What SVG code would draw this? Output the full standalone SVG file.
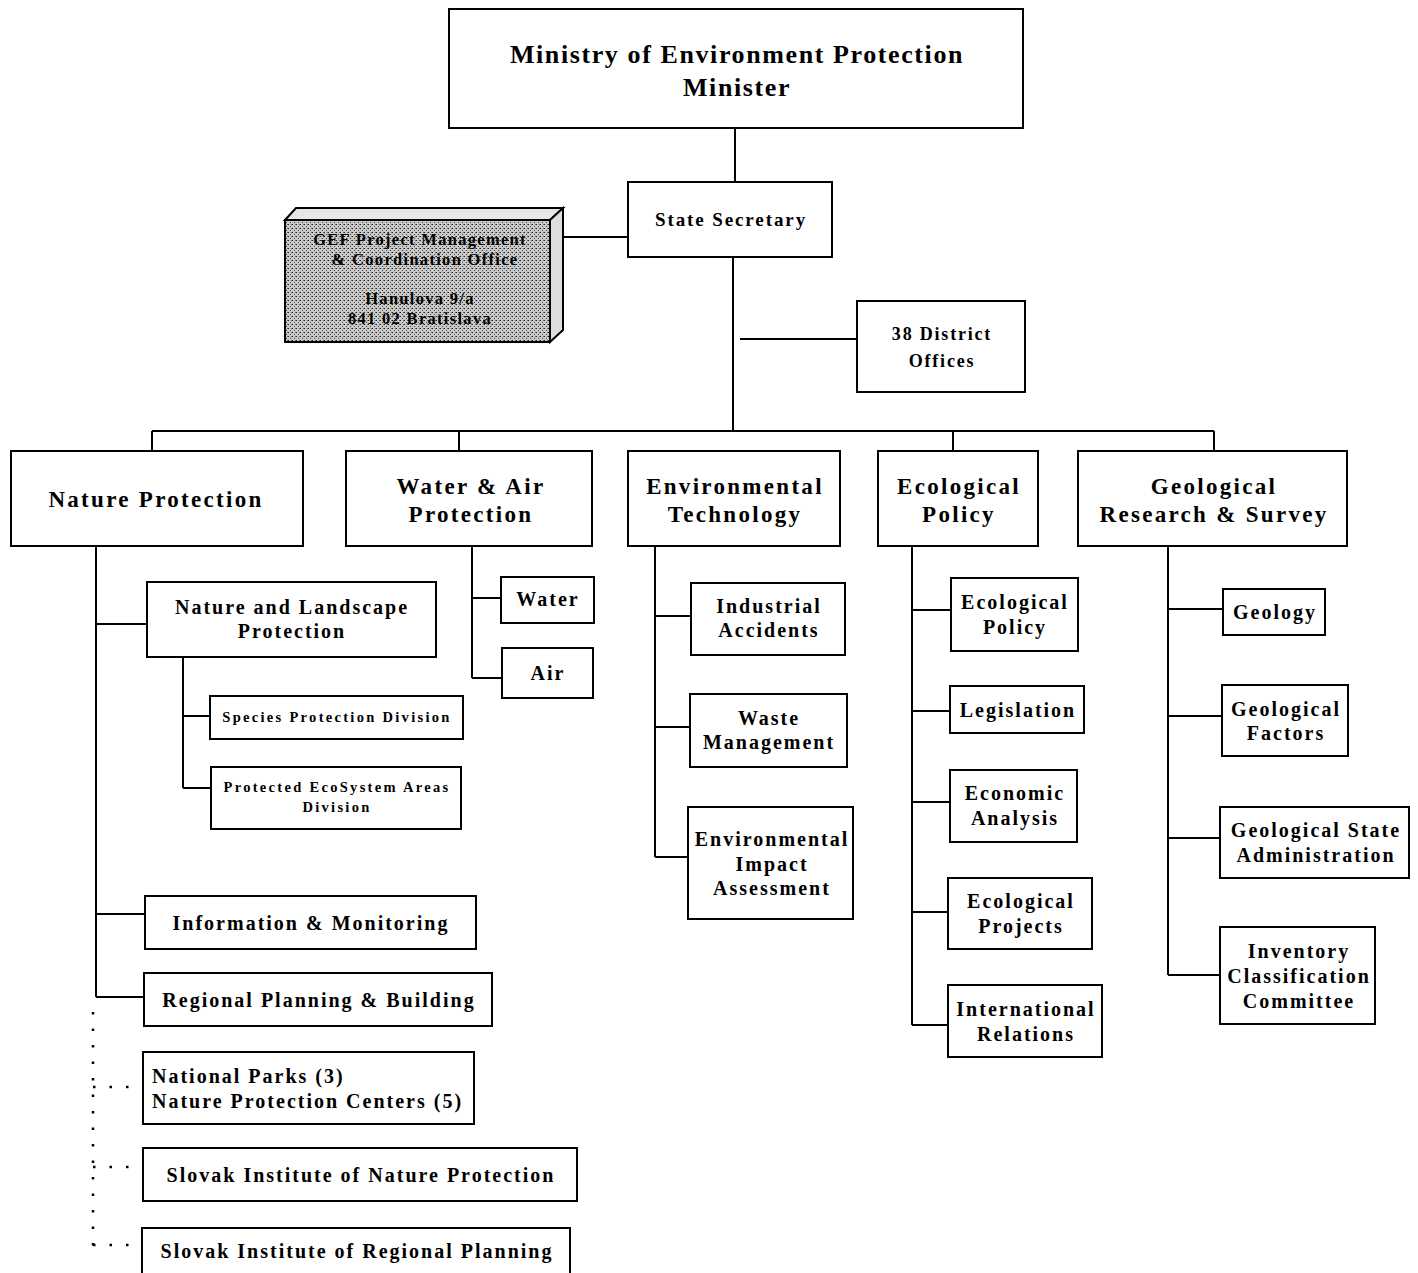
<svg xmlns="http://www.w3.org/2000/svg" width="1418" height="1273" viewBox="0 0 1418 1273">
<defs>
<pattern id="stip" width="4" height="4" patternUnits="userSpaceOnUse">
<rect width="4" height="4" fill="#c8c8c8"/>
<rect x="0" y="0" width="1" height="1" fill="#222"/>
<rect x="2" y="2" width="1" height="1" fill="#444"/>
<rect x="3" y="0" width="1" height="1" fill="#666"/>
</pattern>
<style>
.b{fill:#fff;stroke:#000;stroke-width:2}
.t{font-family:"Liberation Serif",serif;font-weight:bold;fill:#000;text-anchor:middle;letter-spacing:0.1em}
.tl{font-family:"Liberation Serif",serif;font-weight:bold;fill:#000;text-anchor:start;letter-spacing:0.1em}
.s{letter-spacing:2.3px}
.g{letter-spacing:1.3px}
.m{letter-spacing:1.6px}
.c{stroke:#000;stroke-width:2;fill:none}
.d{stroke:#000;stroke-width:2.5;fill:none;stroke-dasharray:2.5 14}
</style>
</defs>
<rect width="1418" height="1273" fill="#fff"/>
<g id="connectors">
<path class="c" d="M735 128V182"/>
<path class="c" d="M550 237H628"/>
<path class="c" d="M733 257V431"/>
<path class="c" d="M740 339H857"/>
<path class="c" d="M152 431H1214"/>
<path class="c" d="M152 431V451M459 431V451M953 431V451M1214 431V451"/>
<path class="c" d="M96 546V997M96 624H147M96 914H145M96 997H144"/>
<path class="c" d="M183 657V788M183 716H210M183 788H211"/>
<path class="c" d="M472 546V678M472 598H501M472 678H502"/>
<path class="c" d="M655 546V857M655 616H691M655 727H690M655 857H688"/>
<path class="c" d="M912 546V1025M912 610H951M912 711H950M912 802H950M912 912H948M912 1025H948"/>
<path class="c" d="M1168 546V975M1168 609H1223M1168 716H1222M1168 838H1220M1168 975H1220"/>
<path class="d" d="M93 1012V1258"/>
<path class="d" d="M93 1087H143M93 1167H143M93 1245H142"/>
</g>
<g id="ministry"><rect class="b" x="449" y="9" width="574" height="119"/>
<text class="t m" font-size="26" x="737" y="63">Ministry of Environment Protection</text>
<text class="t m" font-size="26" x="737" y="96">Minister</text></g>
<g id="state-secretary"><rect class="b" x="628" y="182" width="204" height="75"/>
<text class="t" font-size="19" x="731" y="226">State Secretary</text></g>
<g id="gef-office">
<path d="M285 220L296 208H563L550 220Z" fill="#e6e6e6" stroke="#000" stroke-width="2"/>
<path d="M550 220L563 208V330L550 342Z" fill="#ddd" stroke="#000" stroke-width="2"/>
<rect x="285" y="220" width="265" height="122" fill="url(#stip)" stroke="#000" stroke-width="2"/>
<text class="t g" font-size="16.5" x="420" y="245">GEF Project Management</text>
<text class="t g" font-size="16.5" x="425" y="265">&amp; Coordination Office</text>
<text class="t g" font-size="16.5" x="420" y="304">Hanulova 9/a</text>
<text class="t g" font-size="16.5" x="420" y="324">841 02 Bratislava</text></g>
<g id="district-offices"><rect class="b" x="857" y="301" width="168" height="91"/>
<text class="t" font-size="18" x="942" y="340">38 District</text>
<text class="t" font-size="18" x="942" y="367">Offices</text></g>
<g id="nature-protection"><rect class="b" x="11" y="451" width="292" height="95"/>
<text class="t" font-size="23" x="156" y="507">Nature Protection</text></g>
<g id="water-air"><rect class="b" x="346" y="451" width="246" height="95"/>
<text class="t" font-size="23" x="471" y="494">Water &amp; Air</text>
<text class="t" font-size="23" x="471" y="522">Protection</text></g>
<g id="env-tech"><rect class="b" x="628" y="451" width="212" height="95"/>
<text class="t" font-size="23" x="735" y="494">Environmental</text>
<text class="t" font-size="23" x="735" y="522">Technology</text></g>
<g id="eco-policy"><rect class="b" x="878" y="451" width="160" height="95"/>
<text class="t" font-size="23" x="959" y="494">Ecological</text>
<text class="t" font-size="23" x="959" y="522">Policy</text></g>
<g id="geo-research"><rect class="b" x="1078" y="451" width="269" height="95"/>
<text class="t" font-size="23" x="1214" y="494">Geological</text>
<text class="t" font-size="23" x="1214" y="522">Research &amp; Survey</text></g>
<g id="nature-landscape"><rect class="b" x="147" y="582" width="289" height="75"/>
<text class="t" font-size="20" x="292" y="614">Nature and Landscape</text>
<text class="t" font-size="20" x="292" y="638">Protection</text></g>
<g id="species"><rect class="b" x="210" y="696" width="253" height="43"/>
<text class="t s" font-size="14.5" x="337" y="722">Species Protection Division</text></g>
<g id="protected-eco"><rect class="b" x="211" y="767" width="250" height="62"/>
<text class="t s" font-size="14.5" x="337" y="792">Protected EcoSystem Areas</text>
<text class="t s" font-size="14.5" x="337" y="812">Division</text></g>
<g id="info-monitoring"><rect class="b" x="145" y="896" width="331" height="53"/>
<text class="t" font-size="20" x="311" y="930">Information &amp; Monitoring</text></g>
<g id="regional-planning"><rect class="b" x="144" y="973" width="348" height="53"/>
<text class="t" font-size="20" x="319" y="1007">Regional Planning &amp; Building</text></g>
<g id="national-parks"><rect class="b" x="143" y="1052" width="331" height="72"/>
<text class="tl" font-size="20" x="152" y="1083">National Parks (3)</text>
<text class="tl" font-size="20" x="152" y="1108">Nature Protection Centers (5)</text></g>
<g id="slovak-nature"><rect class="b" x="143" y="1148" width="434" height="53"/>
<text class="t" font-size="20" x="361" y="1182">Slovak Institute of Nature Protection</text></g>
<g id="slovak-regional"><rect class="b" x="142" y="1228" width="428" height="60"/>
<text class="t" font-size="20" x="357" y="1258">Slovak Institute of Regional Planning</text></g>
<g id="water"><rect class="b" x="501" y="577" width="93" height="46"/>
<text class="t" font-size="20" x="548" y="606">Water</text></g>
<g id="air"><rect class="b" x="502" y="648" width="91" height="50"/>
<text class="t" font-size="20" x="548" y="680">Air</text></g>
<g id="industrial"><rect class="b" x="691" y="583" width="154" height="72"/>
<text class="t" font-size="20" x="769" y="613">Industrial</text>
<text class="t" font-size="20" x="769" y="637">Accidents</text></g>
<g id="waste"><rect class="b" x="690" y="694" width="157" height="73"/>
<text class="t" font-size="20" x="769" y="725">Waste</text>
<text class="t" font-size="20" x="769" y="749">Management</text></g>
<g id="eia"><rect class="b" x="688" y="807" width="165" height="112"/>
<text class="t" font-size="20" x="772" y="846">Environmental</text>
<text class="t" font-size="20" x="772" y="871">Impact</text>
<text class="t" font-size="20" x="772" y="895">Assessment</text></g>
<g id="eco-policy-sub"><rect class="b" x="951" y="578" width="127" height="73"/>
<text class="t" font-size="20" x="1015" y="609">Ecological</text>
<text class="t" font-size="20" x="1015" y="634">Policy</text></g>
<g id="legislation"><rect class="b" x="950" y="686" width="134" height="47"/>
<text class="t" font-size="20" x="1018" y="717">Legislation</text></g>
<g id="economic"><rect class="b" x="950" y="770" width="127" height="72"/>
<text class="t" font-size="20" x="1015" y="800">Economic</text>
<text class="t" font-size="20" x="1015" y="825">Analysis</text></g>
<g id="eco-projects"><rect class="b" x="948" y="878" width="144" height="71"/>
<text class="t" font-size="20" x="1021" y="908">Ecological</text>
<text class="t" font-size="20" x="1021" y="933">Projects</text></g>
<g id="intl-relations"><rect class="b" x="948" y="985" width="154" height="72"/>
<text class="t" font-size="20" x="1026" y="1016">International</text>
<text class="t" font-size="20" x="1026" y="1041">Relations</text></g>
<g id="geology"><rect class="b" x="1223" y="589" width="102" height="46"/>
<text class="t" font-size="20" x="1275" y="619">Geology</text></g>
<g id="geo-factors"><rect class="b" x="1222" y="685" width="126" height="71"/>
<text class="t" font-size="20" x="1286" y="716">Geological</text>
<text class="t" font-size="20" x="1286" y="740">Factors</text></g>
<g id="geo-state"><rect class="b" x="1220" y="807" width="189" height="71"/>
<text class="t" font-size="20" x="1316" y="837">Geological State</text>
<text class="t" font-size="20" x="1316" y="862">Administration</text></g>
<g id="inventory"><rect class="b" x="1220" y="927" width="155" height="97"/>
<text class="t" font-size="20" x="1299" y="958">Inventory</text>
<text class="t" font-size="20" x="1299" y="983">Classification</text>
<text class="t" font-size="20" x="1299" y="1008">Committee</text></g>
</svg>
